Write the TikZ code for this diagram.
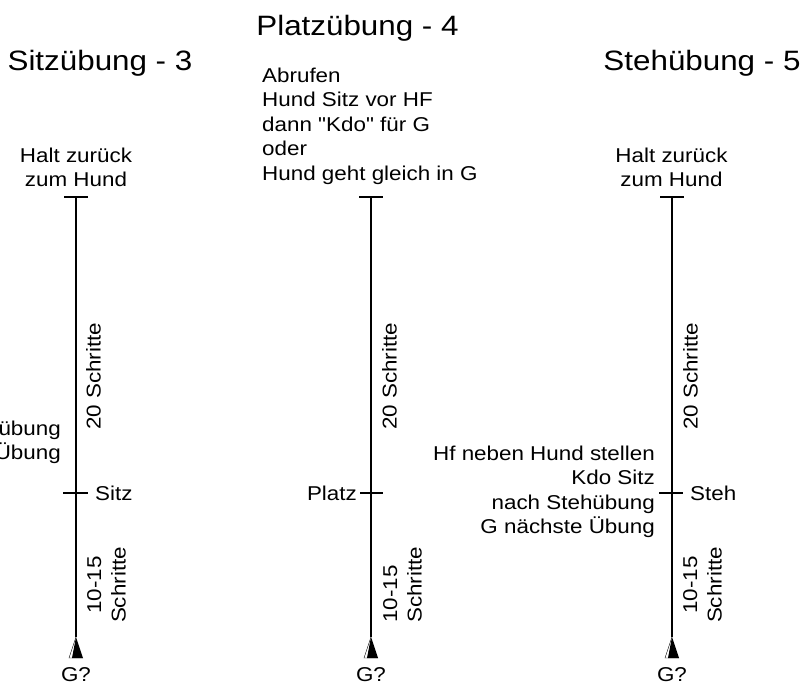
\documentclass[tikz,border=0pt]{standalone}
\usepackage{fontspec}
\newfontfamily\diagfont[FakeStretch=1.12]{Liberation Sans}
\usepackage{tikz}
\newcommand\labfont{\diagfont\fontsize{20}{24.5}\selectfont}
\newcommand\headfont{\diagfont\fontsize{28}{32}\selectfont}

\begin{document}
\begin{tikzpicture}[x=1pt, y=-1pt, every node/.style={inner sep=0pt, font=\labfont}]
	% Define styles
	\tikzstyle{title} = [font=\headfont, anchor=base]
	\tikzstyle{track} = [line width=1.6pt]
	\tikzstyle{tick} = [line width=1.3pt]
	\tikzstyle{steps} = [rotate=90, anchor=north west, align=left]
	\tikzstyle{hund} = [fill=black]
	\useasboundingbox (0,0) rectangle (806,686);

	% Titles
	\node[title] (sitztitle) at (100,70) {Sitzübung - 3};
	\node[title] (platztitle) at (357.5,35) {Platzübung - 4};
	\node[title] (stehtitle) at (702,70) {Stehübung - 5};

	% Track points
	\coordinate (sitztop) at (76,197);
	\coordinate (sitzmid) at (76,493);
	\coordinate (sitzg) at (76,637);
	\coordinate (platztop) at (371,197);
	\coordinate (platzmid) at (371,493);
	\coordinate (platzg) at (371,637);
	\coordinate (stehtop) at (672,197);
	\coordinate (stehmid) at (672,493);
	\coordinate (stehg) at (672,637);

	% Tracks
	\draw[track, line width=1.2pt] (sitztop) -- (sitzg);
	\draw[track] (platztop) -- (platzg);
	\draw[track] (stehtop) -- (stehg);

	% Ticks
	\draw[tick] ([xshift=-12pt]sitztop) -- ([xshift=12pt]sitztop);
	\draw[tick] ([xshift=-13pt]sitzmid) -- ([xshift=12pt]sitzmid);
	\draw[tick] ([xshift=-12pt]platztop) -- ([xshift=12pt]platztop);
	\draw[tick] ([xshift=-11pt]platzmid) -- ([xshift=12pt]platzmid);
	\draw[tick] ([xshift=-12pt]stehtop) -- ([xshift=12pt]stehtop);
	\draw[tick] ([xshift=-13pt]stehmid) -- ([xshift=11pt]stehmid);

	% Start marks
	\fill[hund] (sitzg) -- ++(7,21) -- ++(-11,0) -- cycle;
	\draw[thin] (sitzg) -- ++(-7,21) -- ++(14,0);
	\fill[hund] (platzg) -- ++(7,21) -- ++(-11,0) -- cycle;
	\draw[thin] (platzg) -- ++(-7,21) -- ++(14,0);
	\fill[hund] (stehg) -- ++(7,21) -- ++(-11,0) -- cycle;
	\draw[thin] (stehg) -- ++(-7,21) -- ++(14,0);

	% Labels at top
	\node[anchor=north, align=center] (sitzhalt) at (76,147.5) {Halt zurück\\zum Hund};
	\node[anchor=north west, align=left] (platzabruf) at (262,67.4) {Abrufen\\Hund Sitz vor HF\\dann "Kdo" für G\\oder\\Hund geht gleich in G};
	\node[anchor=north, align=center] (stehhalt) at (671.5,147.5) {Halt zurück\\zum Hund};

	% Labels at middle
	\node[anchor=west] (sitzlab) at (95,493) {Sitz};
	\node[anchor=east] (platzlab) at (357,493) {Platz};
	\node[anchor=west] (stehlab) at (690,493) {Steh};
	\node[anchor=north east, align=right] (sitznote) at (61,420.4) {übung\\Übung};
	\node[anchor=north east, align=right] (stehnote) at (655,445.4) {Hf neben Hund stellen\\Kdo Sitz\\nach Stehübung\\G nächste Übung};

	% Step counts
	\node[steps] (sitz20) at (86,430) {20 Schritte};
	\node[steps] (platz20) at (382,430) {20 Schritte};
	\node[steps] (steh20) at (683,430) {20 Schritte};
	\node[steps, anchor=north, align=center] (sitz10) at (87,585) {10-15\\Schritte};
	\node[steps] (platz10) at (383,623) {10-15\\Schritte};
	\node[steps, anchor=north, align=center] (steh10) at (683,585) {10-15\\Schritte};

	% Start labels
	\node[anchor=north] (sitzstart) at (76,667) {G?};
	\node[anchor=north] (platzstart) at (371,667) {G?};
	\node[anchor=north] (stehstart) at (672,667) {G?};
\end{tikzpicture}
\end{document}
